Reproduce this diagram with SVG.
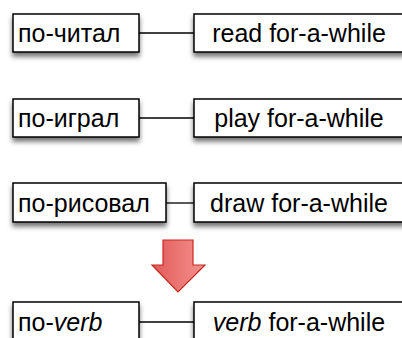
<svg xmlns="http://www.w3.org/2000/svg" width="402" height="338" viewBox="0 0 402 338">
  <defs>
    <filter id="shadow" x="-10%" y="-30%" width="120%" height="180%">
      <feDropShadow dx="0" dy="4" stdDeviation="2.5" flood-color="#000" flood-opacity="0.55"/>
    </filter>
    <linearGradient id="arrowFill" x1="0" y1="0" x2="1" y2="0">
      <stop offset="0" stop-color="#e05a58"/>
      <stop offset="1" stop-color="#f5928e"/>
    </linearGradient>
  </defs>
  <style>
    .box { fill: #fff; stroke: #000; stroke-width: 1.5; filter: url(#shadow); }
    .lbl { font-family: "Liberation Sans", Arial, sans-serif; font-size: 25px; fill: #000; }
    .mid { text-anchor: middle; }
    .link { stroke: #000; stroke-width: 1.3; fill: none; }
  </style>

  <!-- connectors between the Russian form and its gloss -->
  <g id="connectors">
    <line class="link" x1="139" y1="33" x2="194" y2="33"/>
    <line class="link" x1="139" y1="118" x2="194" y2="118"/>
    <line class="link" x1="166" y1="203" x2="194" y2="203"/>
    <line class="link" x1="139" y1="322" x2="194" y2="322"/>
  </g>

  <g id="ru-read">
    <rect class="box" x="13" y="14" width="126" height="38"/>
    <text class="lbl" x="18" y="42">по-читал</text>
  </g>
  <g id="en-read">
    <rect class="box" x="194" y="14" width="212" height="38"/>
    <text class="lbl mid" x="299" y="42">read for-a-while</text>
  </g>

  <g id="ru-play">
    <rect class="box" x="13" y="99" width="126" height="38"/>
    <text class="lbl" x="18" y="127">по-играл</text>
  </g>
  <g id="en-play">
    <rect class="box" x="194" y="99" width="212" height="38"/>
    <text class="lbl mid" x="299" y="127">play for-a-while</text>
  </g>

  <g id="ru-draw">
    <rect class="box" x="13" y="183" width="153" height="39"/>
    <text class="lbl" x="18" y="212">по-рисовал</text>
  </g>
  <g id="en-draw">
    <rect class="box" x="194" y="183" width="212" height="39"/>
    <text class="lbl mid" x="299" y="212">draw for-a-while</text>
  </g>

  <!-- generalisation arrow -->
  <g id="arrow">
    <path d="M163 240 H193 V265 H205 L178 292 L152 265 H163 Z" fill="url(#arrowFill)" stroke="#c8281e" stroke-width="1.2" stroke-linejoin="miter"/>
  </g>

  <g id="ru-verb">
    <rect class="box" x="13" y="302" width="126" height="40"/>
    <text class="lbl" x="18" y="331">по-<tspan font-style="italic">verb</tspan></text>
  </g>
  <g id="en-verb">
    <rect class="box" x="194" y="302" width="212" height="40"/>
    <text class="lbl mid" x="299" y="331"><tspan font-style="italic">verb</tspan> for-a-while</text>
  </g>
</svg>
